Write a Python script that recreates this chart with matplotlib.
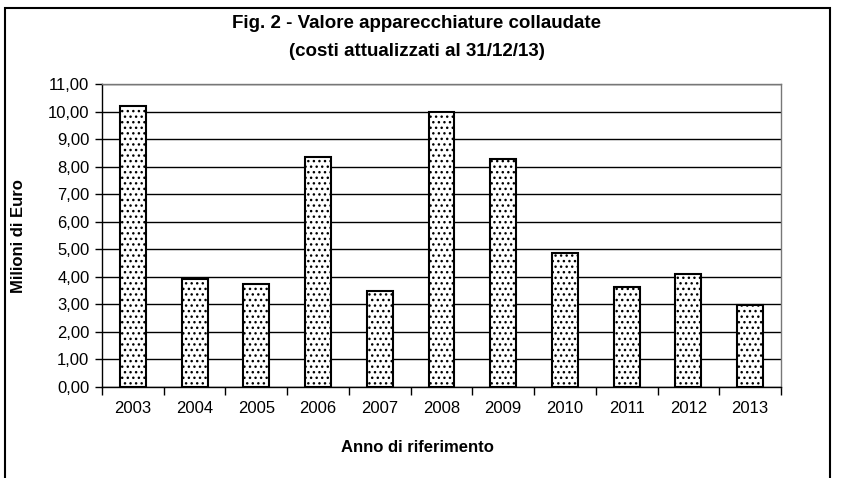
import matplotlib.pyplot as plt
import matplotlib.patches as mpatches
from matplotlib.ticker import FuncFormatter, FixedLocator
import numpy as np

plt.rcParams['font.family'] = ['Liberation Sans', 'DejaVu Sans']
plt.rcParams['hatch.linewidth'] = 1.0
plt.rcParams['hatch.color'] = '#666666'

anni = ['2003', '2004', '2005', '2006', '2007', '2008', '2009', '2010', '2011', '2012', '2013']
valori = [10.2, 3.93, 3.75, 8.34, 3.48, 10.0, 8.28, 4.86, 3.63, 4.11, 2.99]

W, H = 843, 478
fig = plt.figure(figsize=(W / 100, H / 100), dpi=100)
ax = fig.add_axes([102 / W, 1 - 387 / H, (781 - 102) / W, (387 - 84) / H])

x = np.arange(len(anni))
ax.bar(x, valori, width=0.42, color='white', edgecolor='black', linewidth=1.5,
       hatch='...', zorder=3)

ax.set_xlim(-0.5, len(anni) - 0.5)
ax.set_ylim(0, 11)
ax.yaxis.set_major_locator(FixedLocator(np.arange(0, 12, 1)))
ax.yaxis.set_major_formatter(FuncFormatter(lambda v, p: f'{v:.2f}'.replace('.', ',')))
ax.grid(axis='y', color='black', linewidth=1, zorder=0)

# ticks at category boundaries, labels in the middle
ax.set_xticks(np.arange(-0.5, len(anni), 1))
ax.set_xticklabels([])
ax.set_xticks(x, minor=True)
ax.set_xticklabels(anni, minor=True, fontsize=12)
ax.tick_params(axis='x', which='minor', length=0, pad=10)
ax.tick_params(axis='x', which='major', length=6, width=1, direction='out')
ax.tick_params(axis='y', length=5, width=1, labelsize=12, pad=4)

for s in ax.spines.values():
    s.set_linewidth(1)
    s.set_color('black')
ax.spines['right'].set_color('#777777')
ax.spines['top'].set_color('#777777')

fig.text(19 / W, 1 - 236 / H, 'Milioni di Euro', ha='center', va='center',
         rotation=90, fontsize=12, fontweight='bold')
fig.text(417 / W, 1 - 448 / H, 'Anno di riferimento', ha='center', va='center',
         fontsize=12, fontweight='bold')

fig.text(417 / W, 1 - 23 / H, 'Fig. 2 - Valore apparecchiature collaudate',
         ha='center', va='center', fontsize=13.5, fontweight='bold')
fig.text(417 / W, 1 - 52 / H, '(costi attualizzati al 31/12/13)',
         ha='center', va='center', fontsize=13.5, fontweight='bold')

# outer chart frame
frame = mpatches.Rectangle((5 / W, -0.1), (830 - 5) / W, 1.1 - 8 / H,
                           transform=fig.transFigure, fill=False,
                           edgecolor='black', linewidth=1.5, clip_on=False)
fig.patches.append(frame)

fig.savefig('out.png', dpi=100)
